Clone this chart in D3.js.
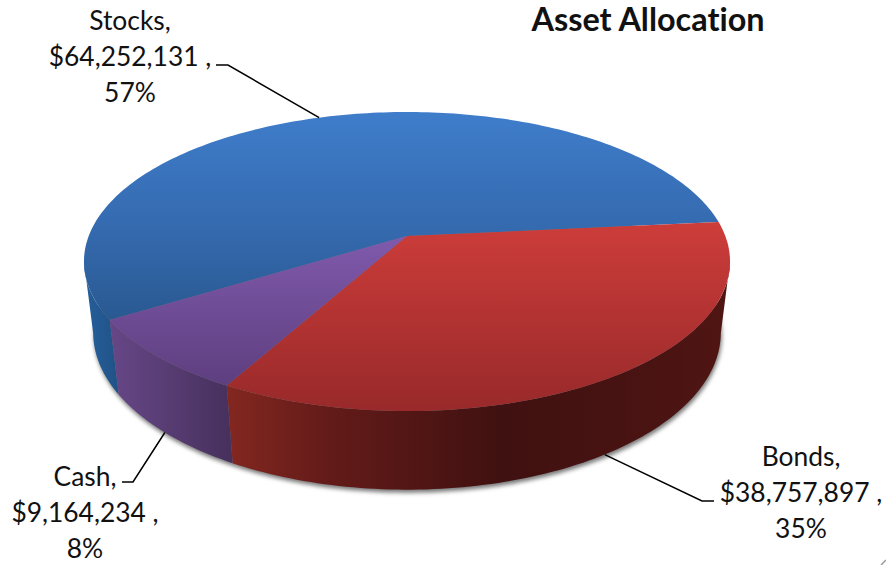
<!DOCTYPE html>
<html>
<head>
<meta charset="utf-8">
<script src="https://cdn.jsdelivr.net/npm/d3@7"></script>
<style>
    body { margin: 0; background: #fff; }
    text { font-family: Lato, "Open Sans", sans-serif; fill: #111; font-variant-ligatures: none; }
</style>
</head>
<body>
<div id="chart"></div>
<script>
// chart data
const categories = ["Stocks", "Bonds", "Cash"];
const amounts = [64252131, 38757897, 9164234];
const amountLabels = ["$64,252,131 ,", "$38,757,897 ,", "$9,164,234 ,"];
const percentLabels = ["57%", "35%", "8%"];

const width = 886, height = 565;

const svg = d3.select("#chart").append("svg")
    .attr("width", width)
    .attr("height", height);
const defs = svg.append("defs");

// perspective of the disc: u is left-right, v runs away from / toward the viewer
const cam = { cx: 407, cy: 236, a: 318.3, b: 104.9, k: 0.1706, drop: 79.2, shrink: 0.0285 };

function project(angle, low) {
    const u = Math.sin(angle), v = -Math.cos(angle);
    const w = 1 - cam.k * v + (low ? cam.shrink : 0);
    return [
        cam.cx + cam.a * u / w,
        (cam.b * v + cam.cy + (low ? cam.drop : 0)) / w
    ];
}

// angles sampled along an arc for the paths, not data
function arcAngles(start, end) {
    const n = Math.ceil((end - start) / 0.02);
    return d3.range(n + 1).map(i => start + (end - start) * i / n);
}

const startDeg = 238.2;
const slices = d3.pie().sort(null)
    .startAngle(startDeg * Math.PI / 180)
    .endAngle((startDeg + 360) * Math.PI / 180)(amounts);

const line = d3.line().curve(d3.curveLinear);

function gradient(id, x1, y1, x2, y2, stops) {
    const g = defs.append("linearGradient").attr("id", id)
        .attr("gradientUnits", "userSpaceOnUse")
        .attr("x1", x1).attr("y1", y1).attr("x2", x2).attr("y2", y2);
    stops.forEach(s => g.append("stop").attr("offset", s[0]).attr("stop-color", s[1]));
}

// top faces shade downward, walls shade sideways
gradient("top0", 0, 112, 0, 335, [[0, "#3f7dcb"], [0.55, "#3469ad"], [1, "#27568c"]]);
gradient("top1", 0, 222, 0, 412, [[0, "#cd3d3a"], [1, "#98292a"]]);
gradient("top2", 0, 240, 0, 388, [[0, "#7f59ab"], [1, "#5d3e7e"]]);
gradient("wall0", 84, 0, 120, 0, [[0, "#275f9b"], [1, "#1f5286"]]);
gradient("wall1", 228, 0, 730, 0, [[0, "#832720"], [0.2, "#631b19"], [0.55, "#3f1110"], [1, "#4f1513"]]);
gradient("wall2", 110, 0, 232, 0, [[0, "#674787"], [1, "#46305c"]]);

defs.append("filter").attr("id", "soft")
    .attr("x", "-5%").attr("y", "-5%").attr("width", "110%").attr("height", "110%")
    .append("feGaussianBlur").attr("stdDeviation", 2.2);

// shadow under the base
const full = arcAngles(0, 2 * Math.PI).map(a => project(a, true));
svg.append("path")
    .attr("d", line(full) + "Z")
    .attr("transform", "translate(1,3)")
    .attr("fill", "#777")
    .attr("filter", "url(#soft)");

// only the front part of the wall shows, between the two silhouette angles
const frontFrom = Math.acos(-cam.k), frontTo = 2 * Math.PI - frontFrom;

function frontArc(d) {
    const shift = d.startAngle >= 2 * Math.PI ? 2 * Math.PI : 0;
    return [Math.max(d.startAngle - shift, frontFrom), Math.min(d.endAngle - shift, frontTo)];
}

svg.append("g").selectAll("path")
    .data(slices)
    .join("path")
    .attr("d", d => {
        const [a, b] = frontArc(d);
        const angles = arcAngles(a, b);
        return line(angles.map(t => project(t, false))
            .concat(angles.slice().reverse().map(t => project(t, true)))) + "Z";
    })
    .attr("fill", (d, i) => `url(#wall${i})`);

svg.append("g").selectAll("path")
    .data(slices)
    .join("path")
    .attr("d", d => line([[cam.cx, cam.cy]].concat(arcAngles(d.startAngle, d.endAngle).map(a => project(a, false)))) + "Z")
    .attr("fill", (d, i) => `url(#top${i})`);

// label layout: centre x, first baseline, elbow and line end of each leader
const labelLayout = [
    { x: 130, y: 30, elbow: [228, 65], end: [216, 65], low: false },
    { x: 801, y: 466, elbow: [702, 501], end: [714, 501], low: true },
    { x: 85, y: 486, elbow: [133, 482], end: [122, 482], low: true }
];
const lineGap = 36;

const labels = svg.append("g").selectAll("g")
    .data(slices)
    .join("g");

labels.append("path")
    .attr("d", (d, i) => {
        const l = labelLayout[i];
        return line([project((d.startAngle + d.endAngle) / 2, l.low), l.elbow, l.end]);
    })
    .attr("fill", "none")
    .attr("stroke", "#000")
    .attr("stroke-width", 1.5);

labels.each(function (d, i) {
    const l = labelLayout[i];
    [categories[i] + ",", amountLabels[i], percentLabels[i]].forEach((t, j) => {
        d3.select(this).append("text")
            .attr("x", l.x)
            .attr("y", l.y + j * lineGap)
            .attr("text-anchor", "middle")
            .attr("font-size", 26.4)
            .text(t);
    });
});

svg.append("text")
    .attr("x", 648)
    .attr("y", 31)
    .attr("text-anchor", "middle")
    .attr("font-size", 32.4)
    .attr("font-weight", 700)
    .text("Asset Allocation");

// small corner mark of the cropped frame
svg.append("path")
    .attr("d", "M881,565L886,560")
    .attr("stroke", "#999")
    .attr("stroke-width", 1.5);
</script>
</body>
</html>
